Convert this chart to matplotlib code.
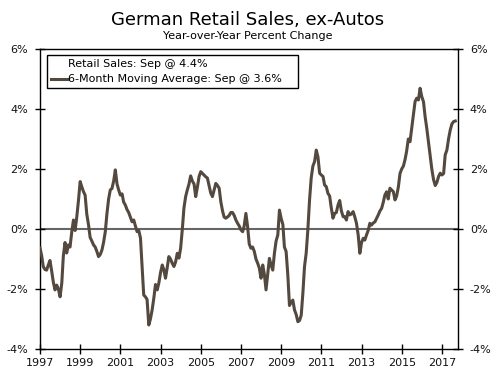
import matplotlib
matplotlib.use("Agg")
import matplotlib.pyplot as plt
import matplotlib.dates as mdates
import pandas as pd
import numpy as np

start_month = "1997-01-01"
ma6 = [
    # 1997
    -0.63, -0.90, -1.25, -1.35, -1.37, -1.20, -1.05, -1.40, -1.78, -2.03, -1.87, -2.00,
    # 1998
    -2.26, -1.80, -0.90, -0.45, -0.80, -0.53, -0.60, -0.10, 0.30, -0.05, 0.41, 0.95,
    # 1999
    1.58, 1.40, 1.25, 1.13, 0.50, 0.15, -0.28, -0.40, -0.53, -0.60, -0.75, -0.92,
    # 2000
    -0.85, -0.70, -0.45, -0.10, 0.50, 1.00, 1.30, 1.35, 1.60, 1.97, 1.50, 1.30,
    # 2001
    1.13, 1.17, 0.90, 0.80, 0.65, 0.55, 0.40, 0.24, 0.30, 0.10, -0.09, -0.05,
    # 2002
    -0.30, -1.30, -2.20, -2.26, -2.35, -3.20, -3.00, -2.70, -2.30, -1.85, -2.03, -1.80,
    # 2003
    -1.45, -1.20, -1.35, -1.64, -1.30, -0.92, -1.00, -1.14, -1.25, -1.10, -0.81, -0.97,
    # 2004
    -0.64, 0.00, 0.70, 1.08, 1.30, 1.50, 1.77, 1.60, 1.50, 1.08, 1.40, 1.75,
    # 2005
    1.91, 1.85, 1.80, 1.74, 1.70, 1.45, 1.20, 1.08, 1.30, 1.52, 1.45, 1.36,
    # 2006
    0.90, 0.60, 0.40, 0.36, 0.40, 0.45, 0.55, 0.55, 0.45, 0.30, 0.19, 0.10,
    # 2007
    -0.03, -0.09, 0.10, 0.52, 0.10, -0.50, -0.64, -0.60, -0.75, -1.00, -1.14, -1.30,
    # 2008
    -1.64, -1.20, -1.50, -2.03, -1.50, -0.98, -1.20, -1.37, -0.80, -0.40, -0.20, 0.63,
    # 2009
    0.35, 0.15, -0.60, -0.75, -1.50, -2.55, -2.45, -2.37, -2.70, -2.85, -3.09, -3.05,
    # 2010
    -2.87, -2.10, -1.26, -0.80, -0.03, 0.97, 1.70, 2.10, 2.25, 2.63, 2.40, 1.86,
    # 2011
    1.80, 1.75, 1.47, 1.41, 1.19, 1.10, 0.70, 0.36, 0.52, 0.55, 0.80, 0.95,
    # 2012
    0.60, 0.41, 0.41, 0.30, 0.58, 0.47, 0.50, 0.58, 0.40, 0.19, -0.20, -0.81,
    # 2013
    -0.45, -0.31, -0.37, -0.20, -0.05, 0.19, 0.13, 0.20, 0.24, 0.35, 0.47, 0.60,
    # 2014
    0.69, 0.90, 1.13, 1.24, 1.00, 1.36, 1.30, 1.25, 0.97, 1.10, 1.40, 1.85,
    # 2015
    2.00, 2.10, 2.30, 2.60, 3.00, 2.91, 3.35, 3.80, 4.25, 4.36, 4.30, 4.69,
    # 2016
    4.41, 4.24, 3.75, 3.35, 2.90, 2.41, 2.00, 1.65, 1.45, 1.55, 1.75, 1.86,
    # 2017
    1.80, 1.85, 2.47, 2.63, 3.00, 3.30, 3.50, 3.58, 3.60,
]
legend_labels = ["Retail Sales: Sep @ 4.4%", "6-Month Moving Average: Sep @ 3.6%"]
y_ticks = [-4, -2, 0, 2, 4, 6]
x_tick_years = list(range(1997, 2018, 2))

dates = pd.date_range(start_month, periods=len(ma6), freq="MS")

fig = plt.figure(figsize=(5.0, 3.78), dpi=100)
ax = fig.add_axes([0.08, 0.0767, 0.836, 0.7937])

ax.axhline(0, color="#666666", lw=1.5, zorder=1)
ax.plot([], [], color="white", lw=2, label=legend_labels[0])
ax.plot(dates, ma6, color="#54493f", lw=2.2, zorder=3, label=legend_labels[1])

ax.set_ylim(-4, 6)
ax.set_xlim(pd.Timestamp("1997-01-01"), pd.Timestamp("2017-10-20"))
ax.set_yticks(y_ticks)
ax.set_yticklabels([f"{v}%" for v in y_ticks])
ax.set_xticks([pd.Timestamp(f"{y}-01-01") for y in x_tick_years])
ax.xaxis.set_major_formatter(mdates.DateFormatter("%Y"))

ax.tick_params(axis="both", which="major", direction="inout", length=7, width=1,
               labelsize=8, colors="black", labelcolor="#111111")
ax.tick_params(axis="y", right=True, labelright=True, pad=5)
ax.tick_params(axis="x", pad=3)
for s in ax.spines.values():
    s.set_linewidth(1.0)
    s.set_color("black")

leg = ax.legend(loc="upper left", bbox_to_anchor=(0.0167, 0.0, 0.6, 0.98),
                mode="expand", fontsize=8,
                frameon=True, fancybox=False, edgecolor="black", framealpha=1,
                handlelength=1.5, handletextpad=0.0, borderpad=0.35,
                labelspacing=0.5, borderaxespad=0.0)
leg.get_frame().set_linewidth(1.0)

fig.text(0.496, 0.935, "German Retail Sales, ex-Autos", ha="center", va="baseline",
         fontsize=13, color="black")
fig.text(0.496, 0.897, "Year-over-Year Percent Change", ha="center", va="baseline",
         fontsize=8, color="black")

fig.savefig("out.png", dpi=100)
